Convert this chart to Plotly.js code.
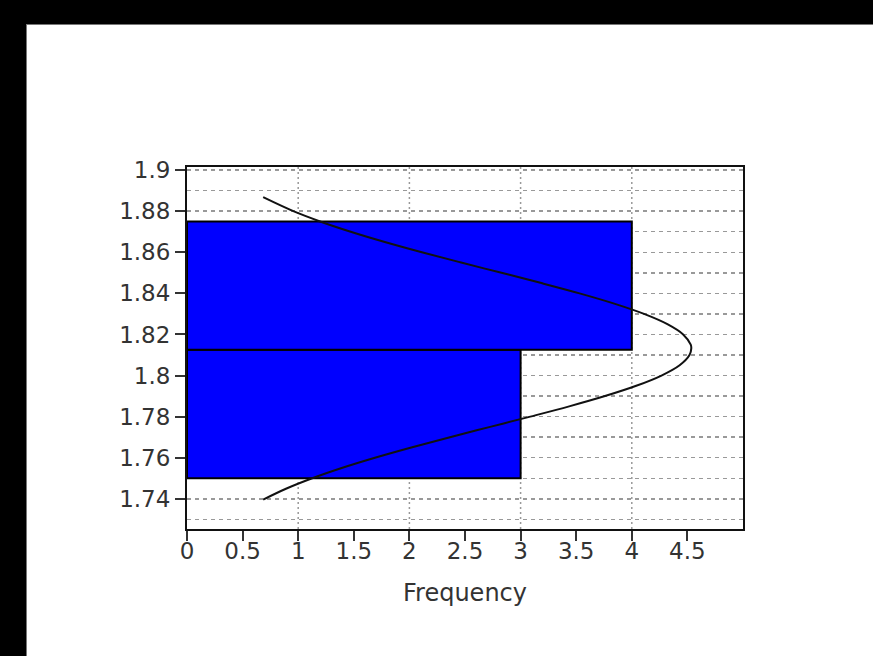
<!DOCTYPE html>
<html>
<head>
<meta charset="utf-8">
<script src="https://cdn.plot.ly/plotly-3.0.1.min.js"></script>
<style>
  html, body { margin: 0; padding: 0; background: #000; width: 873px; height: 656px; overflow: hidden; }
  #chart { position: absolute; left: 26px; top: 24px; width: 847px; height: 632px; background: #fff; border-left: 1px solid #777; border-top: 1px solid #777; box-sizing: border-box; }
</style>
</head>
<body>
<div id="chart"></div>
<script>
// Histogram bins (height intervals) and frequencies
const binCenters = [1.78125, 1.84375];
const binWidth = 0.0625;
const frequencies = [3, 4];

// Fitted normal curve (frequency, height)
const curveHeight = [1.7396, 1.745, 1.75, 1.755, 1.76, 1.765, 1.77, 1.775, 1.78, 1.785, 1.79, 1.795, 1.80, 1.805, 1.81, 1.8132, 1.815, 1.82, 1.825, 1.83, 1.835, 1.84, 1.845, 1.85, 1.855, 1.86, 1.865, 1.87, 1.875, 1.88, 1.8868];
const curveFreq = [0.685, 0.895, 1.126, 1.391, 1.690, 2.017, 2.365, 2.726, 3.087, 3.437, 3.759, 4.040, 4.267, 4.430, 4.519, 4.535, 4.530, 4.462, 4.320, 4.110, 3.842, 3.530, 3.187, 2.828, 2.465, 2.112, 1.779, 1.472, 1.197, 0.956, 0.685];

// Axis ticks
const xTickVals = [0, 0.5, 1, 1.5, 2, 2.5, 3, 3.5, 4, 4.5];
const xTickText = ['0', '0.5', '1', '1.5', '2', '2.5', '3', '3.5', '4', '4.5'];
const yTickVals = [1.74, 1.76, 1.78, 1.8, 1.82, 1.84, 1.86, 1.88, 1.9];
const yTickText = ['1.74', '1.76', '1.78', '1.8', '1.82', '1.84', '1.86', '1.88', '1.9'];
const yMinorGrid = [1.73, 1.75, 1.77, 1.79, 1.81, 1.83, 1.85, 1.87, 1.89];
const xGridVals = [1, 2, 3, 4];

const font = { family: 'DejaVu Sans, Liberation Sans, Arial, sans-serif', size: 23, color: '#333' };
const titleFont = { family: 'DejaVu Sans, Liberation Sans, Arial, sans-serif', size: 24, color: '#333' };

const traces = [
  {
    type: 'bar',
    orientation: 'h',
    y: binCenters,
    x: frequencies,
    width: binWidth,
    marker: { color: '#0000ff', line: { color: '#000', width: 2 } },
    hoverinfo: 'none'
  },
  {
    type: 'scatter',
    mode: 'lines',
    x: curveFreq,
    y: curveHeight,
    line: { color: '#111', width: 2, shape: 'spline' },
    hoverinfo: 'none'
  }
];

const shapes = xGridVals.map(v => ({
  type: 'line', layer: 'below', xref: 'x', yref: 'paper',
  x0: v, x1: v, y0: 0, y1: 1,
  line: { color: '#999', width: 1.5, dash: '2px,3px' }
}));

const layout = {
  width: 847, height: 632,
  margin: { l: 160, r: 131, t: 142, b: 128, pad: 0 },
  paper_bgcolor: '#fff', plot_bgcolor: '#fff',
  showlegend: false,
  bargap: 0,
  font: font,
  shapes: shapes,
  xaxis: {
    range: [0, 5],
    tickvals: xTickVals, ticktext: xTickText,
    ticks: 'outside', ticklen: 10, tickwidth: 2, tickcolor: '#333',
    ticklabelstandoff: -10,
    showline: true, linecolor: '#111', linewidth: 2, mirror: true,
    showgrid: false, zeroline: false,
    tickfont: font,
    title: { text: 'Frequency', font: titleFont, standoff: 22 }
  },
  yaxis: {
    range: [1.7253, 1.9015],
    tickvals: yTickVals, ticktext: yTickText,
    ticks: 'outside', ticklen: 10, tickwidth: 2, tickcolor: '#333',
    showline: true, linecolor: '#111', linewidth: 2, mirror: true,
    showgrid: true, gridcolor: '#999', gridwidth: 1.5, griddash: '4px,4px',
    zeroline: false,
    tickfont: font,
    minor: { tickvals: yMinorGrid, showgrid: true, gridcolor: '#999', gridwidth: 1.5, griddash: '4px,4px', ticks: '' }
  }
};

Plotly.newPlot('chart', traces, layout, { staticPlot: true, displayModeBar: false });
</script>
</body>
</html>
